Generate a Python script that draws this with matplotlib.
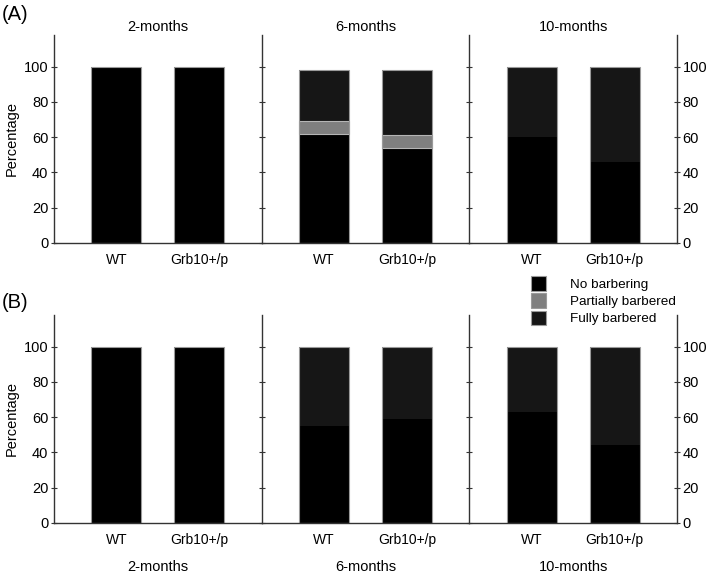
import numpy as np
import matplotlib
matplotlib.use("Agg")
import matplotlib.pyplot as plt
from matplotlib.patches import Patch

plt.rcParams['font.family'] = ['Liberation Sans', 'DejaVu Sans']

ages = ["2-months", "6-months", "10-months"]
genotypes = ["WT", "Grb10+/p"]
categories = ["No barbering", "Partially barbered", "Fully barbered"]
colors = ["#000000", "#7f7f7f", "#161616"]

# Werte je Panel: [Alter][Genotyp] -> (keine, teilweise, voll)
panel_a_none = [[100, 100], [62, 54], [60, 46]]
panel_a_partial = [[0, 0], [7, 7], [0, 0]]
panel_a_full = [[0, 0], [29, 37], [40, 54]]

panel_b_none = [[100, 100], [55, 59], [63, 44]]
panel_b_partial = [[0, 0], [0, 0], [0, 0]]
panel_b_full = [[0, 0], [45, 41], [37, 56]]

yticks = [0, 20, 40, 60, 80, 100]

W, H = 709, 578
fig = plt.figure(figsize=(W / 100, H / 100), dpi=100)

x0, x1 = 54, 677
sub_w = (x1 - x0) / 3


def draw_panel(bottom_px, top_px, none, partial, full, titles_top):
    for i, age in enumerate(ages):
        left = (x0 + i * sub_w) / W
        ax = fig.add_axes([left, 1 - bottom_px / H, sub_w / W, (bottom_px - top_px) / H])
        pos = np.array([0.75, 1.75])
        n = np.array(none[i], dtype=float)
        p = np.array(partial[i], dtype=float)
        f = np.array(full[i], dtype=float)
        # Segmente ohne Rand, danach Umriss
        ax.bar(pos, n, width=0.6, color=colors[0], linewidth=0)
        ax.bar(pos, f, width=0.6, bottom=n + p, color=colors[2], linewidth=0)
        has_p = p > 0
        if has_p.any():
            ax.bar(pos[has_p], p[has_p], width=0.6, bottom=n[has_p], color=colors[1],
                   edgecolor="#b5b5b5", linewidth=0.8)
        ax.bar(pos, n + p + f, width=0.6, facecolor="none", edgecolor="#9a9a9a", linewidth=0.8)
        ax.set_xlim(0, 2.5)
        ax.set_ylim(0, 118)
        ax.set_xticks(pos)
        ax.set_xticklabels(genotypes, fontsize=10)
        ax.tick_params(axis="x", length=0, pad=7)
        ax.set_yticks(yticks)
        ax.spines["top"].set_visible(False)
        for s in ["left", "bottom", "right"]:
            ax.spines[s].set_color("#333333")
            ax.spines[s].set_linewidth(1.0)
        ax.tick_params(axis="y", direction="inout", length=4, color="#333333", labelsize=10.5, pad=2)
        if i == 0:
            ax.set_ylabel("Percentage", fontsize=10.5, labelpad=4)
            ax.spines["right"].set_visible(False)
        elif i == 1:
            ax.set_yticklabels([])
            ax.spines["right"].set_visible(False)
        else:
            ax.yaxis.set_ticks_position("both")
            ax.tick_params(axis="y", labelleft=False, labelright=True)
        if titles_top:
            ax.set_title(age, fontsize=10.5, pad=3)
        else:
            ax.text(0.5, -0.212, age, transform=ax.transAxes, ha="center", va="center", fontsize=10.5)


draw_panel(243, 35, panel_a_none, panel_a_partial, panel_a_full, True)
draw_panel(523, 315, panel_b_none, panel_b_partial, panel_b_full, False)

fig.text(2 / W, 1 - 15 / H, "(A)", fontsize=14.5, va="center", ha="left")
fig.text(2 / W, 1 - 302 / H, "(B)", fontsize=14.5, va="center", ha="left")

handles = [Patch(facecolor=c, edgecolor="#9a9a9a", linewidth=0.8) for c in colors]
fig.legend(handles, categories, loc="upper left", bbox_to_anchor=(531 / W, 1 - 276 / H),
           frameon=False, fontsize=9.7, handlelength=1.15, handleheight=1.3,
           handletextpad=1.75, labelspacing=0.18, borderaxespad=0, borderpad=0)

fig.savefig("out.png", dpi=100)
